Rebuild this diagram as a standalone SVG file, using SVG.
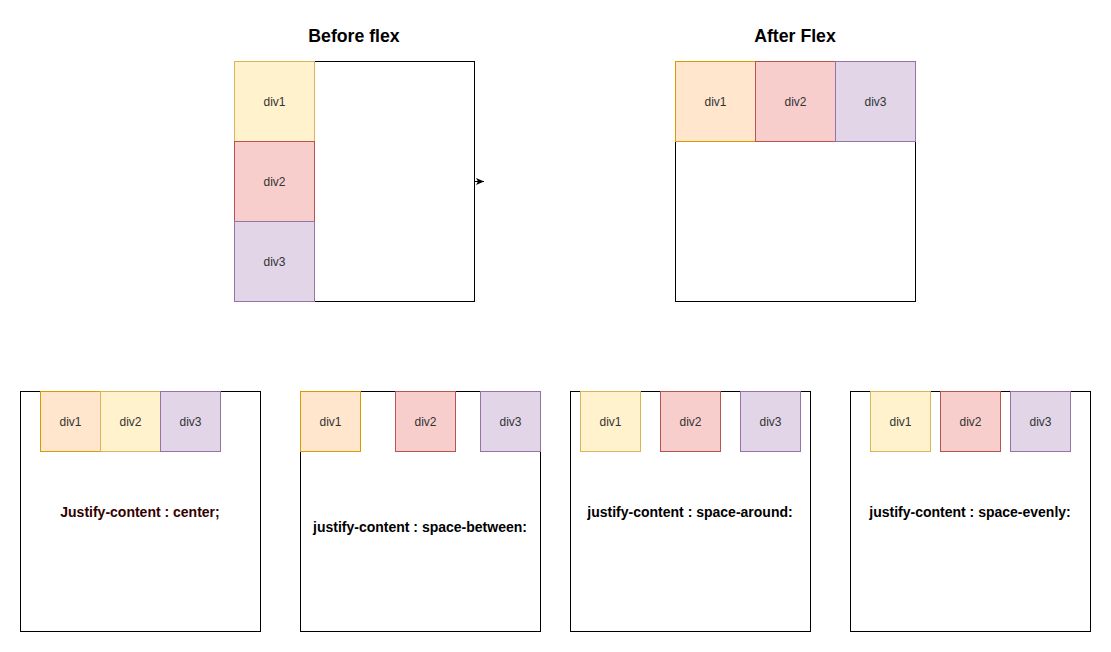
<svg xmlns="http://www.w3.org/2000/svg" width="1111" height="652" viewBox="0 0 1111 652">
<style>
text{font-family:"Liberation Sans",Arial,sans-serif}
.c{fill:#fff;stroke:#000;stroke-width:1}
.o{fill:#ffe6cc;stroke:#d79b00}
.y{fill:#fff2cc;stroke:#d6b656}
.r{fill:#f8cecc;stroke:#b85450}
.p{fill:#e1d5e7;stroke:#9673a6}
.l{font-size:12px;fill:#333;text-anchor:middle}
.t{font-size:17.7px;font-weight:bold;fill:#000;text-anchor:middle}
.j{font-size:14px;font-weight:bold;fill:#000;text-anchor:middle}
</style>
<defs>
<marker id="ah" markerWidth="9" markerHeight="9" refX="8" refY="4.5" orient="auto" markerUnits="userSpaceOnUse">
<path d="M0,1 L8,4.5 L0,8 L2,4.5 Z" fill="#000"/>
</marker>
</defs>
<rect width="1111" height="652" fill="#fff"/>
<text class="t" x="354" y="42">Before flex</text>
<text class="t" x="795" y="42">After Flex</text>
<g id="before">
<rect class="c" x="234.5" y="61.5" width="240" height="240"/>
<rect class="y" x="234.5" y="61.5" width="80" height="80"/><text class="l" x="274.5" y="106">div1</text>
<rect class="r" x="234.5" y="141.5" width="80" height="80"/><text class="l" x="274.5" y="186">div2</text>
<rect class="p" x="234.5" y="221.5" width="80" height="80"/><text class="l" x="274.5" y="266">div3</text>
</g>
<g id="connectors">
<line x1="474.5" y1="181.5" x2="484" y2="181.5" stroke="#000" marker-end="url(#ah)"/>
</g>
<g id="after">
<rect class="c" x="675.5" y="61.5" width="240" height="240"/>
<rect class="o" x="675.5" y="61.5" width="80" height="80"/><text class="l" x="715.5" y="106">div1</text>
<rect class="r" x="755.5" y="61.5" width="80" height="80"/><text class="l" x="795.5" y="106">div2</text>
<rect class="p" x="835.5" y="61.5" width="80" height="80"/><text class="l" x="875.5" y="106">div3</text>
</g>
<g id="center">
<rect class="c" x="20.5" y="391.5" width="240" height="240"/>
<rect class="o" x="40.5" y="391.5" width="60" height="60"/><text class="l" x="70.5" y="426">div1</text>
<rect class="y" x="100.5" y="391.5" width="60" height="60"/><text class="l" x="130.5" y="426">div2</text>
<rect class="p" x="160.5" y="391.5" width="60" height="60"/><text class="l" x="190.5" y="426">div3</text>
<text class="j" x="140" y="517" style="fill:#330000">Justify-content : center;</text>
</g>
<g id="between">
<rect class="c" x="300.5" y="391.5" width="240" height="240"/>
<rect class="o" x="300.5" y="391.5" width="60" height="60"/><text class="l" x="330.5" y="426">div1</text>
<rect class="r" x="395.5" y="391.5" width="60" height="60"/><text class="l" x="425.5" y="426">div2</text>
<rect class="p" x="480.5" y="391.5" width="60" height="60"/><text class="l" x="510.5" y="426">div3</text>
<text class="j" x="420" y="532">justify-content : space-between:</text>
</g>
<g id="around">
<rect class="c" x="570.5" y="391.5" width="240" height="240"/>
<rect class="y" x="580.5" y="391.5" width="60" height="60"/><text class="l" x="610.5" y="426">div1</text>
<rect class="r" x="660.5" y="391.5" width="60" height="60"/><text class="l" x="690.5" y="426">div2</text>
<rect class="p" x="740.5" y="391.5" width="60" height="60"/><text class="l" x="770.5" y="426">div3</text>
<text class="j" x="690" y="517">justify-content : space-around:</text>
</g>
<g id="evenly">
<rect class="c" x="850.5" y="391.5" width="240" height="240"/>
<rect class="y" x="870.5" y="391.5" width="60" height="60"/><text class="l" x="900.5" y="426">div1</text>
<rect class="r" x="940.5" y="391.5" width="60" height="60"/><text class="l" x="970.5" y="426">div2</text>
<rect class="p" x="1010.5" y="391.5" width="60" height="60"/><text class="l" x="1040.5" y="426">div3</text>
<text class="j" x="970" y="517">justify-content : space-evenly:</text>
</g>
</svg>
